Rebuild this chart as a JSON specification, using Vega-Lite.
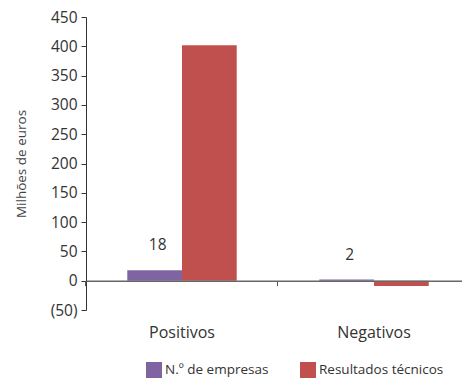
{
  "$schema": "https://vega.github.io/schema/vega-lite/v6.json",
  "autosize": "none",
  "padding": {"left": 86, "top": 17, "right": 0, "bottom": 73},
  "width": 376,
  "height": 293,
  "background": "white",
  "config": {
    "font": "Open Sans",
    "view": {"stroke": null},
    "axis": {"labelColor": "#333333", "titleColor": "#444444", "grid": false}
  },
  "data": {
    "values": [
      {"categoria": "Positivos", "serie": "N.º de empresas", "valor": 18},
      {"categoria": "Positivos", "serie": "Resultados técnicos", "valor": 402},
      {"categoria": "Negativos", "serie": "N.º de empresas", "valor": 2},
      {"categoria": "Negativos", "serie": "Resultados técnicos", "valor": -9}
    ]
  },
  "encoding": {
    "xOffset": {
      "field": "serie",
      "type": "nominal",
      "sort": ["N.º de empresas", "Resultados técnicos"],
      "scale": {"paddingInner": 0, "paddingOuter": 0}
    },
    "y": {
      "field": "valor",
      "type": "quantitative",
      "scale": {"domain": [-50, 450], "nice": false, "zero": false},
      "axis": {
        "title": "Milhões de euros",
        "titleFontSize": 13.5,
        "titleFontWeight": "normal",
        "titlePadding": 22,
        "values": [-50, 0, 50, 100, 150, 200, 250, 300, 350, 400, 450],
        "labelExpr": "datum.value < 0 ? '(' + abs(datum.value) + ')' : datum.label",
        "labelFontSize": 15.5,
        "labelPadding": 4,
        "domainColor": "#333333",
        "tickColor": "#333333",
        "tickSize": 5
      }
    }
  },
  "resolve": {"axis": {"x": "independent"}},
  "layer": [
    {
      "mark": {"type": "bar", "clip": false},
      "encoding": {
        "x": {
          "field": "categoria",
          "type": "nominal",
          "sort": ["Positivos", "Negativos"],
          "scale": {"range": [0, 384], "paddingInner": 0.43, "paddingOuter": 0.215},
          "axis": {
            "title": null,
            "orient": "bottom",
            "labelAngle": 0,
            "labelFontSize": 16,
            "labelColor": "#333333",
            "domain": false,
            "ticks": false,
            "labelPadding": 14
          }
        },
        "color": {
          "field": "serie",
          "type": "nominal",
          "sort": ["N.º de empresas", "Resultados técnicos"],
          "scale": {"range": ["#8064A2", "#C0504D"]},
          "legend": {
            "title": null,
            "orient": "none",
            "legendX": 60,
            "legendY": 345,
            "direction": "horizontal",
            "symbolType": "square",
            "symbolSize": 256,
            "symbolStrokeWidth": 0,
            "symbolOpacity": 1,
            "labelFontSize": 13.5,
            "labelColor": "#333333",
            "labelOffset": 3,
            "columnPadding": 31
          }
        }
      }
    },
    {
      "transform": [{"filter": "datum.serie === 'N.º de empresas'"}],
      "mark": {"type": "text", "dy": -25, "dx": 3, "fontSize": 15.5, "color": "#333333"},
      "encoding": {
        "x": {
          "field": "categoria",
          "type": "nominal",
          "sort": ["Positivos", "Negativos"],
          "axis": {
            "title": null,
            "orient": "bottom",
            "labels": false,
            "offset": -29.3,
            "zindex": 1,
            "domainColor": "#666666",
            "domainWidth": 1.5,
            "tickColor": "#555555",
            "tickSize": 5,
            "bandPosition": -0.378
          }
        },
        "text": {"field": "valor", "type": "quantitative"}
      }
    }
  ]
}
